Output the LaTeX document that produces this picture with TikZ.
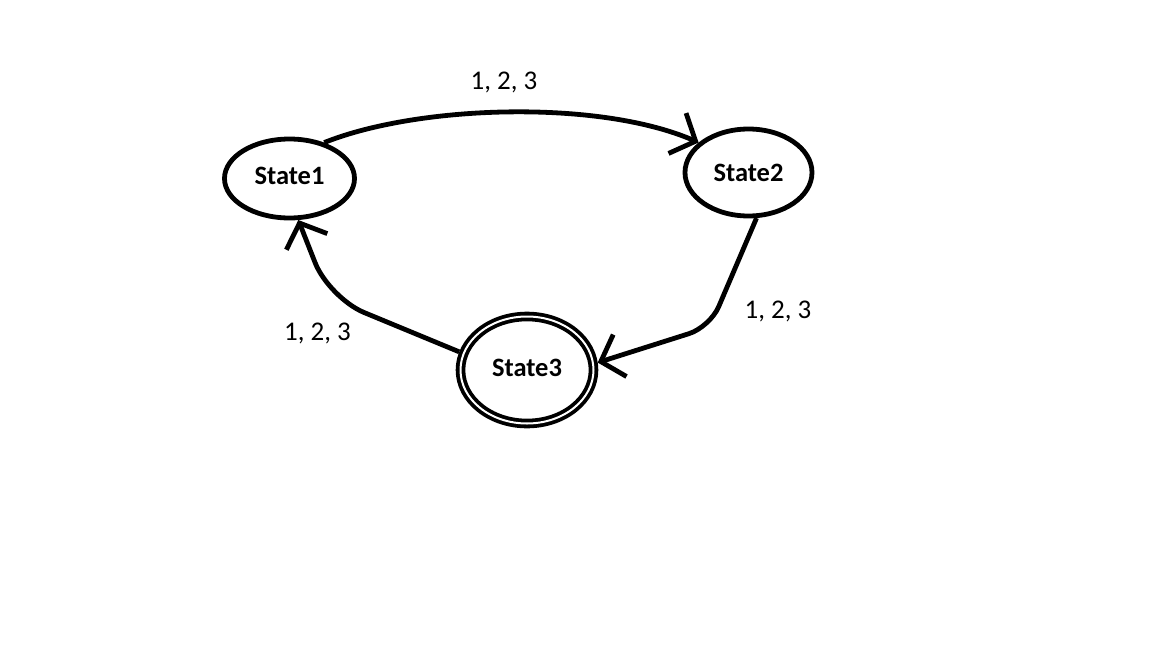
\documentclass[tikz,border=0pt]{standalone}
\usepackage{fontspec}
\setmainfont{Carlito}
\usetikzlibrary{shapes.geometric,arrows.meta}
\begin{document}
\begin{tikzpicture}[x=1pt,y=-1pt,
  statefont/.style={font=\fontsize{26.5}{30}\selectfont\bfseries},
  state/.style={ellipse, draw=black, line width=4.8pt, inner sep=0pt, statefont},
  accept/.style={ellipse, draw=black, line width=3.8pt, double=white, double distance=2pt, inner sep=0pt, outer sep=4.8pt, statefont},
  edge/.style={draw=black, line width=4.8pt, -{Straight Barb[length=20pt,width=44pt]}},
  lbl/.style={font=\fontsize{27}{32}\selectfont, anchor=base, inner sep=0pt}]
\useasboundingbox (0,0) rectangle (1152,648);
\fill[white] (0,0) rectangle (1152,648);

\node[state, minimum width=130pt, minimum height=79pt, text depth=6pt] (s1) at (289.5,178.5) {State1};
\node[state, minimum width=127pt, minimum height=87pt] (s2) at (748.5,172.5) {State2};
\node[accept, minimum width=133pt, minimum height=107pt, text depth=4pt] (s3) at (527,370) {State3};

\draw[edge] (s1.46) .. controls +(95,-38) and +(-99,-43) .. (s2.149);
\draw[edge, rounded corners=22pt] (s2.-80) -- (710,327) -- (s3.6);
\draw[edge, rounded corners=38pt] (s3.165) -- (329,298) -- (s1.-78);

\node[lbl] (l12) at (504,89.3) {1, 2, 3};
\node[lbl] (l23) at (778,318.3) {1, 2, 3};
\node[lbl] (l31) at (317.5,340) {1, 2, 3};
\end{tikzpicture}
\end{document}
